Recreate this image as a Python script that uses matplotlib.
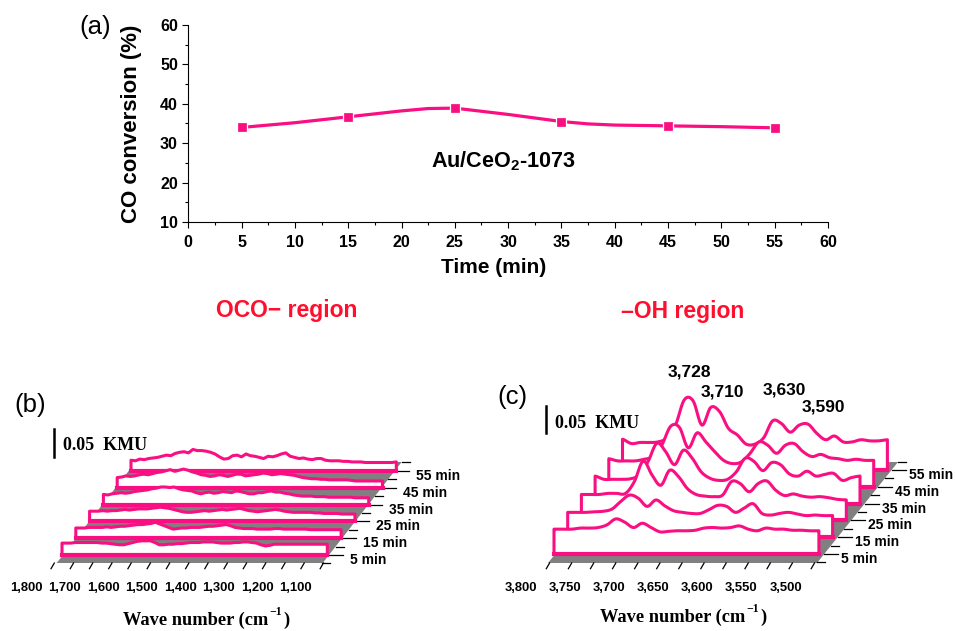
import numpy as np
import matplotlib
matplotlib.use('Agg')
import matplotlib.pyplot as plt
from matplotlib.ticker import MultipleLocator

plt.rcParams['font.family'] = ['Liberation Sans', 'DejaVu Sans']
plt.rcParams['mathtext.fontset'] = 'custom'
plt.rcParams['mathtext.bf'] = 'Liberation Sans:bold'

W, H = 955, 631
PINK = '#FA0F82'
RED = '#FF0F2D'
GRAY = '#808080'

# (a) CO conversion
times = [5, 15, 25, 35, 45, 55]
conversion = [34.0, 36.7, 38.9, 35.5, 34.4, 33.9]
curve_t = [5, 10, 15, 20, 22.5, 25, 30, 35, 37.5, 40, 45, 50, 55]
curve_y = [34.0, 35.2, 36.7, 38.2, 38.8, 38.9, 37.3, 35.5, 34.9, 34.6, 34.4, 34.2, 33.9]

time_labels = ['5 min', '15 min', '25 min', '35 min', '45 min', '55 min']

# (b) wave numbers and heights above each baseline, in 10^-3 KMU
wn_b = [1780, 1768.5, 1757, 1745.5, 1734, 1722.5, 1711, 1699.5, 1688, 1676.5,
        1665, 1653.5, 1642, 1630.5, 1619, 1607.5, 1596, 1584.5, 1573, 1561.5,
        1550, 1538.5, 1527, 1515.5, 1504, 1492.5, 1481, 1469.5, 1458, 1446.5,
        1435, 1423.5, 1412, 1400.5, 1389, 1377.5, 1366, 1354.5, 1343, 1331.5,
        1320, 1308.5, 1297, 1285.5, 1274, 1262.5, 1251, 1239.5, 1228, 1216.5,
        1205, 1193.5, 1182, 1170.5, 1159, 1147.5, 1136, 1124.5, 1113, 1101.5,
        1090]
b_5 = [21, 21, 21, 22, 22, 22, 22, 22, 22, 21,
       21, 20, 19, 18, 18, 20, 22, 24, 25, 25,
       25, 22, 18, 18, 19, 19, 20, 20, 21, 22,
       22, 22, 23, 23, 23, 22, 21, 21, 21, 22,
       22, 23, 23, 22, 21, 18, 16, 17, 19, 19,
       19, 19, 19, 19, 19, 19, 19, 19, 19, 19,
       19]
b_15 = [18, 18, 18, 19, 19, 19, 19, 20, 19, 20,
        21, 21, 22, 23, 24, 24, 25, 26, 28, 25,
        22, 19, 16, 17, 18, 18, 19, 19, 19, 20,
        21, 21, 22, 23, 24, 22, 19, 18, 17, 17,
        17, 16, 16, 16, 16, 17, 17, 16, 16, 16,
        16, 16, 16, 15, 15, 15, 15, 15, 15, 15,
        15]
b_25 = [18, 18, 18, 19, 18, 19, 19, 20, 21, 20,
        21, 22, 22, 22, 23, 24, 25, 24, 23, 21,
        19, 17, 16, 16, 17, 18, 19, 18, 19, 20,
        21, 20, 21, 22, 23, 21, 19, 18, 17, 18,
        19, 20, 21, 20, 18, 17, 16, 16, 16, 16,
        16, 15, 15, 14, 14, 14, 14, 13, 13, 13,
        13]
b_35 = [18, 17, 19, 20, 21, 20, 21, 23, 24, 25,
        26, 28, 29, 31, 31, 30, 31, 28, 26, 25,
        24, 21, 19, 21, 22, 20, 21, 23, 22, 21,
        24, 23, 21, 19, 19, 21, 21, 23, 24, 22,
        22, 20, 19, 17, 16, 15, 15, 15, 14, 14,
        14, 13, 13, 13, 13, 13, 13, 12, 12, 12,
        12]
b_45 = [18, 19, 21, 20, 21, 23, 24, 23, 25, 27,
        28, 30, 32, 29, 31, 33, 31, 28, 26, 23,
        22, 20, 21, 23, 22, 20, 22, 24, 24, 21,
        22, 23, 24, 26, 25, 23, 24, 25, 24, 23,
        22, 20, 18, 17, 16, 16, 15, 15, 14, 14,
        14, 14, 14, 13, 12, 12, 12, 12, 12, 12,
        12]
b_55 = [19, 18, 21, 20, 22, 23, 24, 26, 28, 27,
        31, 33, 34, 32, 38, 36, 36, 35, 33, 30,
        25, 21, 22, 27, 28, 25, 30, 27, 26, 24,
        22, 26, 25, 27, 30, 32, 26, 24, 22, 23,
        21, 20, 22, 22, 19, 18, 18, 18, 17, 17,
        16, 16, 16, 15, 15, 15, 15, 15, 15, 15,
        16]
b_ticks = [1800, 1700, 1600, 1500, 1400, 1300, 1200, 1100]

# (c)
wn_c = [3795, 3785, 3775, 3765, 3755, 3745, 3735, 3725, 3715, 3705, 3695,
        3685, 3675, 3665, 3655, 3645, 3635, 3625, 3615, 3605, 3595,
        3585, 3575, 3565, 3555, 3545, 3535, 3525, 3515, 3505, 3495]
c_5 = [46, 46, 46, 48, 48, 49, 54, 65, 59, 49, 57, 49, 41, 42, 43, 43, 44, 48, 49, 48, 49, 52, 46, 43, 48, 46, 46, 44, 44, 43, 43]
c_15 = [46, 46, 46, 47, 48, 52, 66, 78, 72, 57, 69, 58, 49, 46, 44, 44, 51, 59, 57, 46, 54, 62, 44, 41, 44, 46, 43, 40, 41, 40, 40]
c_25 = [48, 48, 48, 50, 50, 50, 72, 110, 84, 65, 93, 81, 59, 48, 45, 44, 47, 72, 68, 53, 68, 73, 56, 46, 49, 45, 43, 44, 42, 39, 38]
c_35 = [51, 45, 45, 45, 46, 53, 78, 112, 96, 72, 99, 84, 59, 47, 43, 45, 59, 84, 78, 61, 76, 72, 55, 51, 60, 51, 54, 56, 43, 48, 51]
c_45 = [52, 48, 48, 48, 51, 56, 77, 112, 110, 72, 100, 83, 65, 49, 43, 46, 62, 83, 77, 62, 77, 80, 65, 56, 60, 54, 52, 49, 51, 49, 49]
c_55 = [57, 49, 51, 51, 52, 59, 83, 130, 128, 83, 116, 108, 77, 65, 48, 48, 60, 91, 86, 70, 83, 85, 68, 56, 63, 52, 52, 56, 54, 54, 56]
c_ticks = [3800, 3750, 3700, 3650, 3600, 3550, 3500]
c_peaks = ['3,728', '3,710', '3,630', '3,590']


fig = plt.figure(figsize=(W / 100, H / 100), dpi=100)


def px_axes(left, right, top, bottom):
    return fig.add_axes([left / W, 1 - bottom / H, (right - left) / W, (bottom - top) / H])


def px_text(x, y, s, **kw):
    kw.setdefault('va', 'center')
    return fig.text(x / W, 1 - y / H, s, **kw)


# panel (a)
ax = px_axes(188.3, 828, 25, 222)
ax.plot(curve_t, curve_y, color=PINK, lw=2.3, zorder=2)
ax.plot(times, conversion, ls='none', marker='s', ms=7, mfc=PINK, mec='white', mew=0.9, zorder=3)
ax.set_xlim(0, 60)
ax.set_ylim(10, 60)
ax.xaxis.set_major_locator(MultipleLocator(5))
ax.xaxis.set_minor_locator(MultipleLocator(2.5))
ax.yaxis.set_major_locator(MultipleLocator(10))
ax.yaxis.set_minor_locator(MultipleLocator(5))
ax.spines['top'].set_visible(False)
ax.spines['right'].set_visible(False)
ax.tick_params(which='major', length=4.5, width=0.8, labelsize=11.5, pad=3)
ax.tick_params(axis='x', which='major', pad=5)
ax.tick_params(which='minor', length=2.5, width=0.8)
for lab in ax.get_xticklabels() + ax.get_yticklabels():
    lab.set_fontweight('bold')

px_text(131.7, 124, 'CO conversion (%)', rotation=90, ha='center', fontsize=16, fontweight='bold')
px_text(494, 268, 'Time (min)', ha='center', fontsize=15, fontweight='bold')
px_text(504, 161, r'Au/CeO$\mathbf{_{2}}$-1073', ha='center', fontsize=15.6, fontweight='bold')
px_text(287, 311, 'OCO\u2212 region', ha='center', fontsize=16.5, fontweight='bold', color=RED)
px_text(683, 312, '\u2013OH region', ha='center', fontsize=16.5, fontweight='bold', color=RED)
px_text(95, 27, '(a)', ha='center', fontsize=18.5)
px_text(30, 405, '(b)', ha='center', fontsize=18.5)
px_text(512, 397, '(c)', ha='center', fontsize=18.5)


def smooth(x, y, n=8):
    # Catmull-Rom through the read values, only so the line is drawn round
    y = np.asarray(y, dtype=float)
    p = np.r_[y[0], y, y[-1]]
    t = np.linspace(0, 1, n, endpoint=False)[:, None]
    s = 0.5 * (2 * p[1:-2] + (p[2:-1] - p[:-3]) * t
               + (2 * p[:-3] - 5 * p[1:-2] + 4 * p[2:-1] - p[3:]) * t ** 2
               + (3 * p[1:-2] - p[:-3] - 3 * p[2:-1] + p[3:]) * t ** 3)
    u = (np.arange(len(y) - 1)[None, :] + t).T.ravel()
    xs = np.interp(u, np.arange(len(y)), x)
    return np.r_[xs, x[-1]], np.r_[s.T.ravel(), y[-1]]


def waterfall(box, wn0, base_px, x_scale, y_scale, wn, series, step_px, floor_px, bar_px, tick_wn, minor_wn,
              label_off, label_gap, round_line=False):
    left, right, top, bottom = box
    a = px_axes(left, right, top, bottom)
    a.set_xlim(wn0 + (base_px[0] - left) / x_scale, wn0 - (right - base_px[0]) / x_scale)
    a.set_ylim(-(bottom - base_px[1]) / y_scale, (base_px[1] - top) / y_scale)
    a.axis('off')

    dwn = step_px[0] / x_scale
    dy = step_px[1] / y_scale
    wn = np.array(wn, dtype=float)

    # grey floor
    fl, fr, back_dx, fy, by = floor_px
    y_f = (base_px[1] - fy) / y_scale
    y_b = (base_px[1] - by) / y_scale
    w_l = wn0 - (fl - base_px[0]) / x_scale
    w_r = wn0 - (fr - base_px[0]) / x_scale
    shift = back_dx / x_scale
    a.fill([w_l, w_r, w_r - shift, w_l - shift], [y_f, y_f, y_b, y_b], color=GRAY, lw=0, zorder=1)

    edge = lambda y: w_r - shift * (y - y_f) / (y_b - y_f)

    # ticks below the front edge
    for t in minor_wn:
        a.plot([t, t + 3.3 / x_scale], [y_f, y_f - 5.7 / y_scale], color='black', lw=0.9, zorder=1)

    # ticks on the right edge
    for i in range(6):
        y = i * dy
        a.plot([edge(y), edge(y) - 14 / x_scale], [y, y], color='black', lw=0.9, zorder=1)
        ym = (i + 0.5) * dy if i < 5 else y_b
        a.plot([edge(ym), edge(ym) - 8 / x_scale], [ym, ym], color='black', lw=0.9, zorder=1)
        a.text(edge(y) - label_gap / x_scale, y - 5 / y_scale, time_labels[i], ha='left', va='center',
               fontsize=10, fontweight='bold')
    ym = -0.5 * dy
    a.plot([edge(ym), edge(ym) - 8 / x_scale], [ym, ym], color='black', lw=0.9, zorder=1)

    # ribbons, back one first so the front ones cover it
    for i in range(5, -1, -1):
        x = wn - i * dwn
        xs, ys = smooth(x, series[i]) if round_line else (x, np.array(series[i], dtype=float))
        ys = ys + i * dy
        z = 3 + (5 - i) * 0.1
        a.fill(np.r_[xs, xs[-1], xs[0]], np.r_[ys, i * dy, i * dy], fc='white', ec=PINK, lw=2.2,
               joinstyle='round', zorder=z)
        a.plot([x[0], x[-1]], [i * dy, i * dy], color=PINK, lw=3.0, solid_capstyle='projecting', zorder=z)

    # scale bar, 0.05 KMU = 50 in these units
    bx, by_b = bar_px
    bw = wn0 - (bx - base_px[0]) / x_scale
    b0 = (base_px[1] - by_b) / y_scale
    a.plot([bw, bw], [b0, b0 + 50], color='black', lw=1.8)

    # tick labels along the bottom, they sit left of their ticks
    for t in tick_wn:
        a.text(t + label_off / x_scale, (base_px[1] - 588) / y_scale, f'{t:,}', ha='center', va='center',
               fontsize=9.4, fontweight='bold')
    return a


def wave_label(x, y):
    t = px_text(x, y, 'Wave number (cm', ha='left', fontsize=13.2, fontweight='bold', family='Liberation Serif')
    fig.add_artist(matplotlib.text.Annotation('\u22121', xy=(1, 0.62), xycoords=t, xytext=(1, 0),
                                              textcoords='offset points', ha='left', va='bottom', fontsize=8.5,
                                              fontweight='bold', family='Liberation Serif'))
    fig.add_artist(matplotlib.text.Annotation(')', xy=(1, 0), xycoords=t, xytext=(11, 0),
                                              textcoords='offset points', ha='left', va='bottom', fontsize=13.2,
                                              fontweight='bold', family='Liberation Serif'))


ax_b = waterfall((5, 440, 420, 600), 1780, (62, 555), 0.3845, 0.567, wn_b,
                 [b_5, b_15, b_25, b_35, b_45, b_55], (13.8, 16.8), (56.7, 322.7, 79, 563, 462), (54, 457),
                 b_ticks, list(range(1800, 1050, -50)), 28, 21)
ax_c = waterfall((510, 950, 355, 600), 3795, (554, 554), 0.883, 0.54, wn_c,
                 [c_5, c_15, c_25, c_35, c_45, c_55], (13.7, 16.8), (548, 817, 81, 563, 462), (546, 433),
                 c_ticks, list(range(3800, 3475, -25)), 29, 17, round_line=True)

px_text(63, 445, '0.05  KMU', ha='left', fontsize=13, fontweight='bold', family='Liberation Serif')
px_text(555, 423, '0.05  KMU', ha='left', fontsize=13, fontweight='bold', family='Liberation Serif')

for s, x, y in zip(c_peaks, [689, 722, 784, 823], [372, 392, 390, 407]):
    px_text(x, y, s, ha='center', fontsize=12.5, fontweight='bold')

wave_label(123, 620)
wave_label(600, 617)

fig.savefig('out.png', dpi=100)
